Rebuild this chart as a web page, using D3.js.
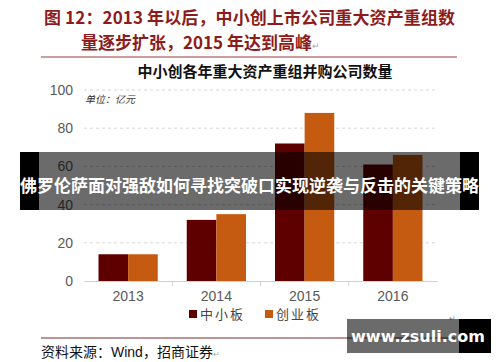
<!DOCTYPE html>
<html>
<head>
<meta charset="utf-8">
<script src="https://cdn.jsdelivr.net/npm/d3@7"></script>
<style>
  html, body { margin: 0; padding: 0; background: #fff; }
  svg { display: block; font-family: "Liberation Sans", "Noto Sans CJK SC", sans-serif; }
</style>
</head>
<body>
<svg id="chart" width="500" height="362"></svg>
<script>
// data
const years = ['2013', '2014', '2015', '2016']
const seriesNames = ['中小板', '创业板']
const smeBoard = [14, 32, 72, 61]
const chinext = [14, 35, 88, 66]
const yTicks = [0, 20, 40, 60, 80, 100]
const colors = ['#5f0000', '#c55a11']

const svg = d3.select('#chart')
const cjk = '"Noto Sans CJK SC", sans-serif'

// header
const titleColor = '#8e1b1b'
svg.append('text').attr('x', 44).attr('y', 24)
  .attr('fill', titleColor).attr('font-family', cjk).attr('font-weight', 700).attr('font-size', 17)
  .attr('textLength', 411).attr('lengthAdjust', 'spacing')
  .text('图 12：2013 年以后，中小创上市公司重大资产重组数')
svg.append('text').attr('x', 81).attr('y', 49)
  .attr('fill', titleColor).attr('font-family', cjk).attr('font-weight', 700).attr('font-size', 17)
  .text('量逐步扩张，2015 年达到高峰')
  .append('tspan').attr('fill', '#aaa').attr('font-size', 9).attr('font-weight', 400).text('↵')
svg.append('line').attr('x1', 41).attr('x2', 457).attr('y1', 57).attr('y2', 57)
  .attr('stroke', '#9b3b3b').attr('stroke-width', 1)

svg.append('text').attr('x', 265).attr('y', 77).attr('text-anchor', 'middle')
  .attr('font-family', cjk).attr('font-weight', 700).attr('font-size', 15).attr('fill', '#111')
  .text('中小创各年重大资产重组并购公司数量')

// scales
const x0 = d3.scaleBand().domain(years).range([84, 437])
const x1 = d3.scaleBand().domain(seriesNames).range([14.5, x0.bandwidth() - 14.5])
const y = d3.scaleLinear().domain([0, 100]).range([281, 90])

// grid
svg.append('g').selectAll('line').data(yTicks.filter(d => d > 0)).join('line')
  .attr('x1', 84).attr('x2', 437)
  .attr('y1', d => y(d)).attr('y2', d => y(d))
  .attr('stroke', '#d6d6d6').attr('stroke-dasharray', '3,3')

// y axis
const yAxis = svg.append('g').attr('transform', 'translate(76,0)')
  .call(d3.axisLeft(y).tickValues(yTicks).tickSize(0))
yAxis.select('.domain').remove()
yAxis.selectAll('text').attr('font-size', 14).attr('fill', '#595959')
  .attr('font-family', '"Liberation Sans", sans-serif')

svg.append('text').attr('x', 85).attr('y', 103).attr('font-family', cjk)
  .attr('font-size', 10).attr('font-style', 'italic').attr('fill', '#333')
  .text('单位：亿元')

// bars
const rows = years.map((yr, i) => ({ year: yr, vals: [smeBoard[i], chinext[i]] }))
svg.append('g').selectAll('g').data(rows).join('g')
  .attr('transform', d => `translate(${x0(d.year)},0)`)
  .selectAll('rect').data(d => d.vals.map((v, j) => ({ key: seriesNames[j], v, j })))
  .join('rect')
  .attr('x', d => x1(d.key))
  .attr('width', x1.bandwidth())
  .attr('y', d => y(d.v))
  .attr('height', d => y(0) - y(d.v))
  .attr('fill', d => colors[d.j])

// x axis
const xAxis = svg.append('g').attr('transform', `translate(0,${y(0)})`)
  .call(d3.axisBottom(x0).tickSize(0).tickPadding(10))
xAxis.select('.domain').attr('stroke', '#d0d0d0')
xAxis.selectAll('text').attr('font-size', 14).attr('fill', '#595959')
  .attr('font-family', '"Liberation Sans", sans-serif')
svg.append('g').selectAll('line').data(years.slice(1)).join('line')
  .attr('x1', d => x0(d)).attr('x2', d => x0(d))
  .attr('y1', y(0)).attr('y2', y(0) + 5)
  .attr('stroke', '#d0d0d0')

// legend
const legend = svg.append('g').selectAll('g').data(seriesNames).join('g')
  .attr('transform', (d, i) => `translate(${189 + i * 76},310)`)
legend.append('rect').attr('width', 8).attr('height', 8).attr('fill', (d, i) => colors[i])
legend.append('text').attr('x', 11).attr('y', 8.5).attr('font-family', cjk)
  .attr('font-size', 13).attr('fill', '#444').attr('letter-spacing', 2).text(d => d)
svg.append('text').attr('x', 449).attr('y', 321).attr('font-size', 8).attr('fill', '#999').text('↵')

// footer
svg.append('line').attr('x1', 41).attr('x2', 455).attr('y1', 338).attr('y2', 338)
  .attr('stroke', '#7a2a2a').attr('stroke-width', 1)
svg.append('text').attr('x', 41).attr('y', 357).attr('font-family', cjk)
  .attr('font-size', 14).attr('fill', '#111')
  .text('资料来源：')
  .append('tspan').attr('font-family', '"Liberation Sans", sans-serif').text('Wind')
  .append('tspan').attr('font-family', cjk).text('，招商证券')
  .append('tspan').attr('fill', '#aaa').attr('font-size', 8).text('↵')

// overlay banner
const banner = svg.append('g')
banner.append('rect').attr('x', 20).attr('y', 152).attr('width', 19).attr('height', 58).attr('fill', '#000')
banner.append('rect').attr('x', 39).attr('y', 152).attr('width', 421).attr('height', 58).attr('fill', 'rgba(0,0,0,0.58)')
banner.append('rect').attr('x', 460).attr('y', 152).attr('width', 19).attr('height', 58).attr('fill', '#000')
banner.append('text').attr('x', 249.5).attr('y', 192).attr('text-anchor', 'middle')
  .attr('font-family', cjk).attr('font-weight', 700).attr('font-size', 17).attr('fill', '#fff')
  .text('佛罗伦萨面对强敌如何寻找突破口实现逆袭与反击的关键策略')

// watermark
const wm = svg.append('g')
wm.append('rect').attr('x', 347).attr('y', 319).attr('width', 112).attr('height', 34).attr('fill', 'rgba(0,0,0,0.58)')
wm.append('rect').attr('x', 459).attr('y', 319).attr('width', 32).attr('height', 34).attr('fill', '#000')
wm.append('text').attr('x', 418).attr('y', 342).attr('text-anchor', 'middle')
  .attr('font-family', '"DejaVu Sans", sans-serif').attr('font-weight', 700).attr('font-size', 16).attr('fill', '#fff')
  .text('www.zsuli.com')
</script>
</body>
</html>
